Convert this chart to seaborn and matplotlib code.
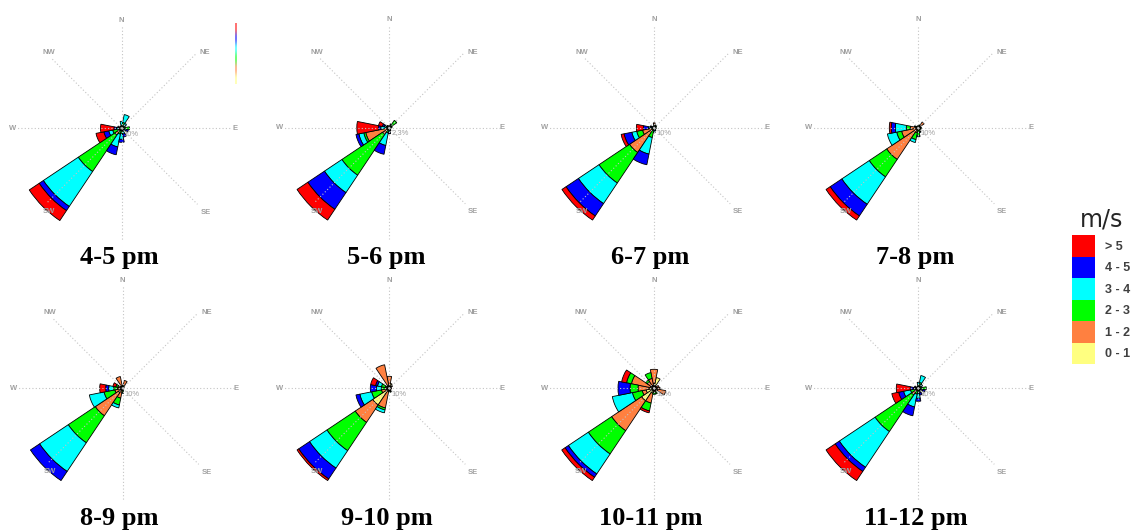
import numpy as np
import pandas as pd
import matplotlib
matplotlib.use("Agg")
import matplotlib.pyplot as plt
from matplotlib.patches import Patch
import seaborn as sns

# ---------------- data ----------------
directions = ['N', 'NNE', 'NE', 'ENE', 'E', 'ESE', 'SE', 'SSE',
              'S', 'SSW', 'SW', 'WSW', 'W', 'WNW', 'NW', 'NNW']
speed_bins = ['0 - 1', '1 - 2', '2 - 3', '3 - 4', '4 - 5', '> 5']
periods = ['4-5 pm', '5-6 pm', '6-7 pm', '7-8 pm',
           '8-9 pm', '9-10 pm', '10-11 pm', '11-12 pm']
center_labels = ['10%', '2.3%', '10%', '10%', '10%', '10%', '10%', '10%']

# frequency per direction (rows N..NNW) and speed bin (0-1 .. >5)
freq_4_5pm = [[0, 0, 3, 4, 0, 0], [0, 1, 5, 8, 0, 0], [0, 1, 2, 3, 0, 0], [0, 1, 3, 0, 0, 0],
              [0, 1, 7, 0, 0, 0], [0, 1, 2, 2, 2, 0], [0, 0, 1, 1, 0, 0], [0, 1, 2, 3, 3, 0],
              [0, 1, 4, 6, 3, 0], [0, 2, 4, 13, 8, 0], [0, 8, 44, 42, 5, 12], [0, 3, 6, 4, 5, 8],
              [0, 1, 2, 2, 2.5, 13.5], [0, 1, 1, 1, 1, 0], [0, 0, 1, 0, 0, 0], [0, 0, 1, 1, 0, 0]]
freq_5_6pm = [[0, 1, 1, 0, 0, 0], [0, 1, 2, 1, 0, 0], [0, 2, 7, 0, 0, 0], [0, 1, 2, 0, 0, 0],
              [0, 1, 1, 0, 0, 0], [0, 0, 1, 0, 0, 0], [0, 0, 1, 0, 0, 0], [0, 1, 1, 1, 0, 0],
              [0, 1, 2, 2, 1, 0], [0, 2, 3, 13, 9, 0], [0, 8, 49, 21, 20, 13], [0, 24, 2, 5, 3, 0],
              [0, 2, 2, 4.5, 2.5, 21.5], [0, 2, 1, 2, 2, 4], [0, 1, 1, 1, 0, 0], [0, 1, 1, 0, 0, 0]]
freq_6_7pm = [[0, 5, 0, 0, 0, 0], [0, 2, 1, 0, 0, 0], [0, 2, 1, 0, 0, 0], [0, 1, 0, 0, 0, 0],
              [0, 1, 1, 0, 0, 0], [0, 1, 1, 0, 0, 0], [0, 0, 1, 0, 0, 0], [0, 1, 1, 1, 0, 0],
              [0, 1, 2, 2, 0, 0], [0, 3, 7, 17, 11, 0], [0, 30, 37, 25, 15, 5], [0, 12, 6, 5, 8, 3],
              [0, 2, 2, 2, 5, 7], [0, 1, 1, 1, 1, 0], [0, 1, 0, 0, 0, 0], [0, 1, 1, 0, 0, 0]]
freq_7_8pm = [[0, 1, 1, 0, 0, 0], [0, 2, 1, 0, 0, 0], [0, 7, 0, 0, 0, 0], [0, 1, 1, 0, 0, 0],
              [0, 1, 2, 0, 0, 0], [0, 1, 2, 0, 0, 0], [0, 0, 1, 0, 0, 0], [0, 1, 3, 1, 0, 0],
              [0, 2, 6, 1, 0, 0], [0, 5, 7, 3, 0, 0], [0, 38, 21, 33, 14, 5], [0, 17, 5, 9.5, 0, 0],
              [0, 8, 4, 11, 4, 2], [0, 2, 1, 1, 0, 0], [0, 1, 0, 0, 0, 0], [0, 1, 1, 0, 0, 0]]
freq_8_9pm = [[0, 2, 1, 0, 0, 0], [0, 8, 0, 0, 0, 0], [0, 2, 0, 0, 0, 0], [0, 1, 0, 0, 0, 0],
              [0, 1, 0, 0, 0, 0], [0, 1, 0, 0, 0, 0], [0, 1, 0, 0, 0, 0], [0, 1, 1, 0, 0, 0],
              [0, 2, 2, 1, 0, 0], [0, 10, 7, 3, 0, 0], [5, 28, 32.5, 34.5, 11, 0], [2, 6, 11, 15, 0, 0],
              [0, 5, 4, 5, 3, 6], [0, 5, 2, 0, 0, 3], [0, 2, 1, 0, 0, 0], [0, 12, 0, 0, 0, 0]]
freq_9_10pm = [[0, 12, 0, 0, 0, 0], [5, 0, 0, 0, 0, 0], [3, 1, 0, 0, 0, 0], [1, 1, 0, 0, 0, 0],
               [1, 1, 0, 0, 0, 0], [1, 1, 0, 0, 0, 0], [1, 0, 0, 0, 0, 0], [1, 2, 1, 0, 0, 0],
               [1, 2, 1, 0, 0, 0], [3, 17, 2, 3, 0, 0], [20, 21, 34, 21, 13, 2], [3, 5, 10, 12, 4, 0],
               [0, 3, 5, 5, 6, 0], [0, 4, 4, 4, 2, 5], [1, 2, 1, 0, 0, 0], [3, 21, 0, 0, 0, 0]]
freq_10_11pm = [[5, 14, 0, 0, 0, 0], [11, 0, 0, 0, 0, 0], [3, 1, 0, 0, 0, 0], [3, 2, 0, 0, 0, 0],
                [3, 3, 0, 0, 0, 0], [4, 8, 0, 0, 0, 0], [2, 1, 0, 0, 0, 0], [2, 2, 2, 0, 0, 0],
                [2, 2, 2, 0, 0, 0], [5, 10, 8, 0, 0, 2], [15, 36, 28, 24, 4, 4], [8, 4, 10, 20.5, 0, 0],
                [5, 11, 8, 0, 12, 0], [4, 19, 5, 0, 0, 5], [3, 5, 2, 0, 0, 0], [3, 7, 6, 0, 0, 0]]
freq_11_12pm = [[0, 0, 3, 3, 0, 0], [0, 1, 5, 7, 0, 0], [0, 1, 2, 2, 0, 0], [0, 1, 3, 0, 0, 0],
                [0, 1, 7, 0, 0, 0], [0, 1, 2, 2, 2, 0], [0, 0, 1, 1, 0, 0], [0, 1, 2, 2, 2, 0],
                [0, 1, 4, 5, 3, 0], [0, 2, 4, 13, 9, 0], [0, 8, 44, 43, 5, 11], [0, 3, 5, 7, 5, 7],
                [0, 1, 2, 2, 3, 14], [0, 1, 1, 1, 1, 0], [0, 0, 1, 0, 0, 0], [0, 0, 1, 1, 0, 0]]

all_freqs = [freq_4_5pm, freq_5_6pm, freq_6_7pm, freq_7_8pm,
             freq_8_9pm, freq_9_10pm, freq_10_11pm, freq_11_12pm]

# ---------------- styles ----------------
bin_colors = ['#FFFF80', '#FF8040', '#00FF00', '#00FFFF', '#0000FF', '#FF0000']
W_PX, H_PX = 1141, 531
R_PX = 112
centers = [(121.5, 128.3), (389.3, 127.8), (654.2, 127.8), (918.3, 127.8),
           (122.7, 388.3), (389.3, 388.3), (654.0, 388.3), (918.3, 388.3)]
title_x = [119.5, 386.5, 650.5, 915.0, 119.5, 386.5, 650.5, 915.5]
title_base = [264, 264, 264, 264, 525, 525, 525, 525]

sns.set_theme(style="white")
plt.rcParams['font.family'] = ['Liberation Sans', 'DejaVu Sans']

rows = []
for p, tbl in zip(periods, all_freqs):
    for d, vals in enumerate(tbl):
        for b, v in enumerate(vals):
            rows.append({'period': p, 'dir_idx': d, 'bin_idx': b, 'freq': v})
df = pd.DataFrame(rows)

sector = 2 * np.pi / len(directions)


def draw_rose(data, **kws):
    ax = plt.gca()
    tbl = (data.pivot(index='dir_idx', columns='bin_idx', values='freq')
               .reindex(index=range(16), columns=range(6)).fillna(0))
    theta = np.arange(16) * sector
    bottom = np.zeros(16)
    for b in range(6):
        h = tbl[b].to_numpy(dtype=float)
        m = h > 0
        if m.any():
            ax.bar(theta[m], h[m], width=sector, bottom=bottom[m],
                   color=bin_colors[b], edgecolor='black', linewidth=0.6,
                   zorder=2, align='center')
        bottom += h
    ax.set_ylim(0, bottom.max() * R_PX / 111.0)


g = sns.FacetGrid(df, col='period', col_order=periods, col_wrap=4,
                  subplot_kws={'projection': 'polar'}, sharex=False, sharey=False,
                  height=2.2, aspect=1, despine=False)
g.map_dataframe(draw_rose)
g.set_titles('')
g.set_axis_labels('', '')
fig = g.figure
fig.set_size_inches(W_PX / 100, H_PX / 100)
fig.patch.set_facecolor('white')

label_cfg = [('N', 0, 0.965), ('NE', 48, 1.005), ('E', 90, 1.01), ('SE', 135, 1.06),
             ('SW', 221, 0.99), ('W', 270, 0.975), ('NW', 316, 0.935)]
spoke_cfg = [(0, 0.91), (45, 0.94), (90, 0.99), (135, 0.96), (180, 1.0),
             (225, 0.95), (270, 0.94), (315, 0.88)]

for i, ax in enumerate(g.axes.flat):
    cx, cy = centers[i]
    ax.set_position([(cx - R_PX) / W_PX, 1 - (cy + R_PX) / H_PX,
                     2 * R_PX / W_PX, 2 * R_PX / H_PX])
    ax.set_theta_zero_location('N')
    ax.set_theta_direction(-1)
    ax.set_xticks([])
    ax.set_yticks([])
    ax.grid(False)
    ax.spines['polar'].set_visible(False)
    ax.set_facecolor('none')
    rmax = ax.get_ylim()[1]
    for ang, frac in spoke_cfg:
        t = np.deg2rad(ang)
        ax.plot([t, t], [0, rmax * frac], ls=(0, (1, 2)), color='#c4c4c4',
                lw=0.8, zorder=3)
    for txt, ang, frac in label_cfg:
        ax.text(np.deg2rad(ang), rmax * frac, txt, ha='center', va='center',
                fontsize=5.5, color='#a0a0a0', fontweight='bold', zorder=4,
                clip_on=False)
    ax.annotate(center_labels[i], xy=(0, 0), xytext=(2, -6),
                textcoords='offset pixels', fontsize=5.5, color='#a0a0a0',
                ha='left', va='center', zorder=4)
    fig.text(title_x[i] / W_PX, 1 - title_base[i] / H_PX, periods[i],
             ha='center', va='baseline', fontsize=19, fontweight='bold',
             family=['Liberation Serif', 'DejaVu Serif'], color='black')

# faint colour strip in the first panel
strip = fig.add_axes([235.3 / W_PX, 1 - 84 / H_PX, 1.4 / W_PX, 61 / H_PX])
strip.imshow(np.array([matplotlib.colors.to_rgb(c) for c in bin_colors[::-1]])[:, None, :],
             aspect='auto', alpha=0.55)
strip.set_axis_off()

handles = [Patch(facecolor=c, edgecolor='none') for c in bin_colors[::-1]]
leg = fig.legend(handles, speed_bins[::-1], title='m/s', loc='upper left',
                 bbox_to_anchor=(1072 / W_PX, 1 - 207 / H_PX), frameon=False,
                 fontsize=9, handlelength=1.85, handleheight=2.27,
                 labelspacing=0.0, handletextpad=0.8, borderpad=0, borderaxespad=0)
leg.get_title().set_fontsize(17)
leg.get_title().set_family(['DejaVu Sans'])
leg._legend_box.sep = 3
for t in leg.get_texts():
    t.set_fontweight('bold')
    t.set_color('#404040')

fig.savefig('out.png', dpi=100, facecolor='white')
